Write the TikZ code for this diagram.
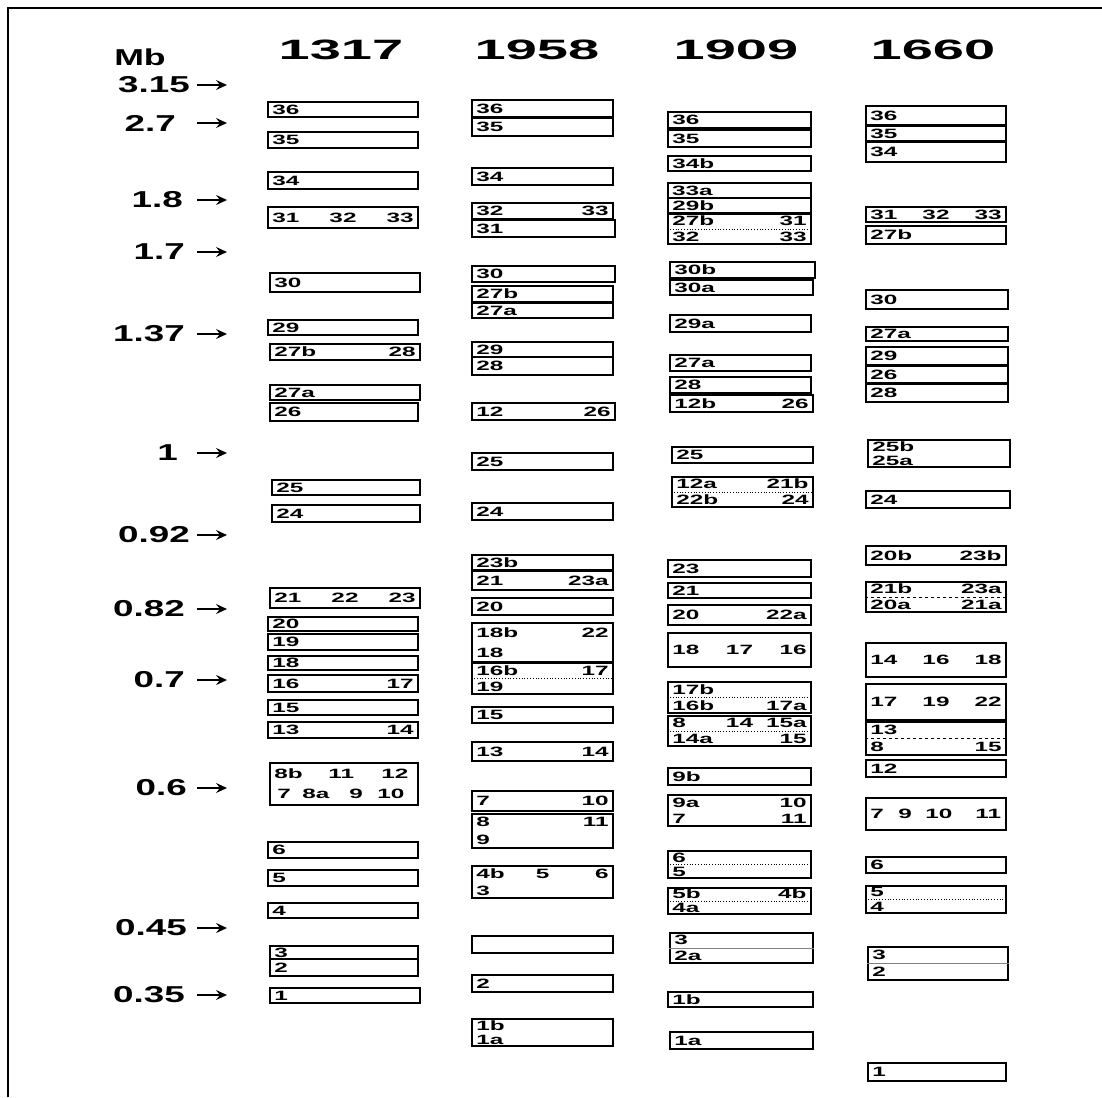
\documentclass[tikz,border=0pt]{standalone}
\usepackage{fontspec}
\setmainfont{Liberation Sans}
\usepackage{graphicx}
\usetikzlibrary{fit,calc,arrows.meta}
\newcommand{\sx}[1]{\scalebox{1.8}[1]{#1}}
\newcommand{\mx}[1]{\scalebox{1.6}[1]{#1}}
\newcommand{\hx}[1]{\scalebox{2.0}[1]{#1}}
\tikzset{
 band/.style={draw, line width=1.5pt, inner sep=0pt},
 lbl/.style={inner sep=0pt, font=\fontsize{13.5}{13.5}\selectfont\bfseries},
 mblab/.style={inner sep=0pt, anchor=east, font=\fontsize{23}{23}\selectfont\bfseries},
 head/.style={inner sep=0pt, font=\fontsize{28}{28}\selectfont\bfseries},
 mbarr/.style={line width=1.6pt, -{Stealth[length=11pt,width=10pt,inset=4pt]}},
 midline/.style={line width=0.8pt, dotted},
 frameline/.style={line width=2pt},
}
\newcommand{\bandbox}[5]{\node[band, fit={(#2,#4) (#3,#5)}] (#1) {};}
\newcommand{\Lw}[2]{\node[lbl,anchor=west] (#1-w) at ([xshift=5pt]#1.west) {\sx{#2}};}
\newcommand{\Le}[2]{\node[lbl,anchor=east] (#1-e) at ([xshift=-5pt]#1.east) {\sx{#2}};}
\newcommand{\Lc}[2]{\node[lbl] (#1-c) at (#1.center) {\sx{#2}};}
\newcommand{\Ltw}[2]{\node[lbl,anchor=west] (#1-tw) at ([xshift=5pt]$(#1.north west)!.25!(#1.south west)$) {\sx{#2}};}
\newcommand{\Lte}[2]{\node[lbl,anchor=east] (#1-te) at ([xshift=-5pt]$(#1.north east)!.25!(#1.south east)$) {\sx{#2}};}
\newcommand{\Ltc}[2]{\node[lbl] (#1-tc) at ($(#1.north)!.25!(#1.south)$) {\sx{#2}};}
\newcommand{\Lbw}[2]{\node[lbl,anchor=west] (#1-bw) at ([xshift=5pt]$(#1.north west)!.75!(#1.south west)$) {\sx{#2}};}
\newcommand{\Lbe}[2]{\node[lbl,anchor=east] (#1-be) at ([xshift=-5pt]$(#1.north east)!.75!(#1.south east)$) {\sx{#2}};}
\newcommand{\Ltx}[4]{\node[lbl,anchor=west] (#1-t#2) at ([xshift=#3pt]$(#1.north west)!.27!(#1.south west)$) {\sx{#4}};}
\newcommand{\Lbx}[4]{\node[lbl,anchor=west] (#1-b#2) at ([xshift=#3pt]$(#1.north west)!.73!(#1.south west)$) {\sx{#4}};}
\newcommand{\Lmx}[4]{\node[lbl,anchor=west] (#1-m#2) at ([xshift=#3pt]#1.west) {\sx{#4}};}
\newcommand{\mbmark}[4]{%
 \node[mblab] (mb#1) at (#3,#4) {\mx{#2}};
 \coordinate (mb#1a) at (197,#4);
 \coordinate (mb#1b) at (227,#4);
 \draw[mbarr] (mb#1a) -- (mb#1b);}
\begin{document}
\begin{tikzpicture}[x=1pt,y=-1pt]
\useasboundingbox (0,0) rectangle (1102,1097);
\fill[white] (0,0) rectangle (1102,1097);
% frame
\coordinate (fbl) at (8,1097);
\coordinate (ftl) at (8,8);
\coordinate (ftr) at (1102,8);
\draw[frameline] (fbl) -- (ftl) -- (ftr);
% headers
\node[inner sep=0pt, font=\fontsize{23}{23}\selectfont\bfseries] (mbhead) at (140,57) {\scalebox{1.55}[1]{Mb}};
\node[head] (h1317) at (341,50) {\hx{1317}};
\node[head] (h1958) at (537,50) {\hx{1958}};
\node[head] (h1909) at (736,50) {\hx{1909}};
\node[head] (h1660) at (933,50) {\hx{1660}};
% Mb scale
\mbmark{315}{3.15}{190}{85}
\mbmark{27}{2.7}{176}{123}
\mbmark{18}{1.8}{183}{200}
\mbmark{17}{1.7}{185}{252}
\mbmark{137}{1.37}{185}{334}
\mbmark{1}{1}{178}{453}
\mbmark{092}{0.92}{190}{535}
\mbmark{082}{0.82}{185}{609}
\mbmark{07}{0.7}{185}{680}
\mbmark{06}{0.6}{187}{788}
\mbmark{045}{0.45}{187}{928}
\mbmark{035}{0.35}{185}{995}

% ---------- 1317 ----------
\bandbox{a36}{268}{418}{102}{117} \Lw{a36}{36}
\bandbox{a35}{268}{418}{132}{148} \Lw{a35}{35}
\bandbox{a34}{268}{418}{172}{189} \Lw{a34}{34}
\bandbox{a31}{268}{418}{207}{228} \Lw{a31}{31} \Lc{a31}{32} \Le{a31}{33}
\bandbox{a30}{270}{420}{273}{292} \Lw{a30}{30}
\bandbox{a29}{268}{418}{320}{335} \Lw{a29}{29}
\bandbox{a27b}{270}{420}{344}{360} \Lw{a27b}{27b} \Le{a27b}{28}
\bandbox{a27a}{270}{420}{385}{400} \Lw{a27a}{27a}
\bandbox{a26}{270}{418}{403}{421} \Lw{a26}{26}
\bandbox{a25}{272}{420}{480}{495} \Lw{a25}{25}
\bandbox{a24}{272}{420}{505}{522} \Lw{a24}{24}
\bandbox{a21}{270}{420}{588}{608} \Lw{a21}{21} \Lc{a21}{22} \Le{a21}{23}
\bandbox{a20}{268}{418}{617}{631} \Lw{a20}{20}
\bandbox{a19}{268}{418}{634}{650} \Lw{a19}{19}
\bandbox{a18}{268}{418}{656}{670} \Lw{a18}{18}
\bandbox{a16}{268}{418}{675}{692} \Lw{a16}{16} \Le{a16}{17}
\bandbox{a15}{268}{418}{700}{715} \Lw{a15}{15}
\bandbox{a13}{268}{418}{722}{738} \Lw{a13}{13} \Le{a13}{14}
\bandbox{a8}{270}{418}{763}{805}
\Ltx{a8}{1}{5}{8b} \Ltx{a8}{2}{59}{11} \Ltx{a8}{3}{112}{12}
\Lbx{a8}{1}{8}{7} \Lbx{a8}{2}{33}{8a} \Lbx{a8}{3}{80}{9} \Lbx{a8}{4}{108}{10}
\bandbox{a6}{268}{418}{842}{858} \Lw{a6}{6}
\bandbox{a5}{268}{418}{870}{886} \Lw{a5}{5}
\bandbox{a4}{268}{418}{903}{918} \Lw{a4}{4}
\bandbox{a3}{270}{418}{946}{959} \Lw{a3}{3}
\bandbox{a2}{270}{418}{959}{976} \Lw{a2}{2}
\bandbox{a1}{270}{420}{988}{1003} \Lw{a1}{1}

% ---------- 1958 ----------
\bandbox{b36}{472}{613}{100}{117} \Lw{b36}{36}
\bandbox{b35}{472}{613}{118}{136} \Lw{b35}{35}
\bandbox{b34}{472}{613}{168}{185} \Lw{b34}{34}
\bandbox{b32}{472}{613}{203}{219} \Lw{b32}{32} \Le{b32}{33}
\bandbox{b31}{472}{615}{220}{237} \Lw{b31}{31}
\bandbox{b30}{472}{615}{266}{282} \Lw{b30}{30}
\bandbox{b27b}{472}{613}{286}{302} \Lw{b27b}{27b}
\bandbox{b27a}{472}{613}{303}{318} \Lw{b27a}{27a}
\bandbox{b29}{472}{613}{342}{357} \Lw{b29}{29}
\bandbox{b28}{472}{613}{357}{375} \Lw{b28}{28}
\bandbox{b12}{472}{615}{403}{420} \Lw{b12}{12} \Le{b12}{26}
\bandbox{b25}{472}{613}{453}{470} \Lw{b25}{25}
\bandbox{b24}{472}{613}{503}{520} \Lw{b24}{24}
\bandbox{b23b}{472}{613}{555}{570} \Lw{b23b}{23b}
\bandbox{b21}{472}{613}{571}{590} \Lw{b21}{21} \Le{b21}{23a}
\bandbox{b20}{472}{613}{598}{615} \Lw{b20}{20}
\bandbox{b18}{472}{613}{623}{662} \Ltw{b18}{18b} \Lte{b18}{22} \Lbw{b18}{18}
\bandbox{b16}{472}{613}{663}{694} \Ltw{b16}{16b} \Lte{b16}{17} \Lbw{b16}{19}
\draw[midline] (b16.west) -- (b16.east);
\bandbox{b15}{472}{613}{707}{723} \Lw{b15}{15}
\bandbox{b13}{472}{613}{742}{761} \Lw{b13}{13} \Le{b13}{14}
\bandbox{b7}{472}{613}{791}{811} \Lw{b7}{7} \Le{b7}{10}
\bandbox{b8}{472}{613}{814}{848} \Ltw{b8}{8} \Lte{b8}{11} \Lbw{b8}{9}
\bandbox{b4}{472}{613}{866}{898} \Ltw{b4}{4b} \Ltc{b4}{5} \Lte{b4}{6} \Lbw{b4}{3}
\bandbox{b2x}{472}{613}{936}{953}
\bandbox{b2}{472}{613}{975}{992} \Lw{b2}{2}
\bandbox{b1}{472}{613}{1019}{1046} \Ltw{b1}{1b} \Lbw{b1}{1a}

% ---------- 1909 ----------
\bandbox{c36}{668}{811}{112}{128} \Lw{c36}{36}
\bandbox{c35}{668}{811}{130}{147} \Lw{c35}{35}
\bandbox{c34}{668}{811}{156}{171} \Lw{c34}{34b}
\node[band, line width=2.2pt, fit={(668,183) (811,198)}] (c33) {}; \Lw{c33}{33a}
\bandbox{c29b}{668}{811}{198}{213} \Lw{c29b}{29b}
\bandbox{c27}{668}{811}{214}{244} \Ltw{c27}{27b} \Lte{c27}{31} \Lbw{c27}{32} \Lbe{c27}{33}
\draw[midline] (c27.west) -- (c27.east);
\bandbox{c30b}{670}{815}{262}{278} \Lw{c30b}{30b}
\bandbox{c30a}{670}{813}{280}{295} \Lw{c30a}{30a}
\bandbox{c29a}{670}{811}{315}{332} \Lw{c29a}{29a}
\bandbox{c27a}{670}{811}{355}{371} \Lw{c27a}{27a}
\bandbox{c28}{670}{811}{377}{393} \Lw{c28}{28}
\bandbox{c12b}{670}{813}{395}{412} \Lw{c12b}{12b} \Le{c12b}{26}
\bandbox{c25}{672}{813}{447}{463} \Lw{c25}{25}
\bandbox{c12a}{672}{813}{477}{507} \Ltw{c12a}{12a} \Lte{c12a}{21b} \Lbw{c12a}{22b} \Lbe{c12a}{24}
\draw[midline] (c12a.west) -- (c12a.east);
\bandbox{c23}{668}{811}{560}{577} \Lw{c23}{23}
\bandbox{c21}{668}{811}{583}{598} \Lw{c21}{21}
\bandbox{c20}{668}{811}{605}{625} \Lw{c20}{20} \Le{c20}{22a}
\bandbox{c18}{668}{811}{633}{667} \Lw{c18}{18} \Lc{c18}{17} \Le{c18}{16}
\bandbox{c17}{668}{811}{682}{713} \Ltw{c17}{17b} \Lbw{c17}{16b} \Lbe{c17}{17a}
\draw[midline] (c17.west) -- (c17.east);
\bandbox{c8}{668}{811}{716}{746} \Ltw{c8}{8} \Ltc{c8}{14} \Lte{c8}{15a} \Lbw{c8}{14a} \Lbe{c8}{15}
\draw[midline] (c8.west) -- (c8.east);
\bandbox{c9b}{668}{811}{768}{785} \Lw{c9b}{9b}
\bandbox{c9a}{668}{811}{795}{826} \Ltw{c9a}{9a} \Lte{c9a}{10} \Lbw{c9a}{7} \Lbe{c9a}{11}
\bandbox{c6}{668}{811}{851}{878} \Ltw{c6}{6} \Lbw{c6}{5}
\draw[midline] (c6.west) -- (c6.east);
\bandbox{c5}{668}{811}{888}{914} \Ltw{c5}{5b} \Lte{c5}{4b} \Lbw{c5}{4a}
\draw[midline] (c5.west) -- (c5.east);
\bandbox{c3}{670}{813}{933}{963} \Ltw{c3}{3} \Lbw{c3}{2a}
\draw[line width=0.6pt, gray] (c3.west) -- (c3.east);
\bandbox{c1b}{668}{813}{992}{1007} \Lw{c1b}{1b}
\bandbox{c1a}{670}{813}{1032}{1049} \Lw{c1a}{1a}

% ---------- 1660 ----------
\bandbox{d36}{866}{1006}{106}{125} \Lw{d36}{36}
\bandbox{d35}{866}{1006}{126}{141} \Lw{d35}{35}
\bandbox{d34}{866}{1006}{142}{162} \Lw{d34}{34}
\bandbox{d31}{866}{1006}{207}{222} \Lw{d31}{31} \Lc{d31}{32} \Le{d31}{33}
\bandbox{d27b}{866}{1006}{226}{244} \Lw{d27b}{27b}
\bandbox{d30}{866}{1008}{290}{309} \Lw{d30}{30}
\bandbox{d27a}{866}{1008}{327}{341} \Lw{d27a}{27a}
\bandbox{d29}{866}{1008}{347}{365} \Lw{d29}{29}
\bandbox{d26}{866}{1008}{366}{383} \Lw{d26}{26}
\bandbox{d28}{866}{1008}{384}{402} \Lw{d28}{28}
\bandbox{d25}{868}{1010}{440}{467} \Ltw{d25}{25b} \Lbw{d25}{25a}
\bandbox{d24}{866}{1010}{491}{508} \Lw{d24}{24}
\bandbox{d20b}{866}{1006}{546}{565} \Lw{d20b}{20b} \Le{d20b}{23b}
\bandbox{d21}{866}{1006}{582}{612} \Ltw{d21}{21b} \Lte{d21}{23a} \Lbw{d21}{20a} \Lbe{d21}{21a}
\draw[line width=0.8pt, dashed] (d21.west) -- (d21.east);
\bandbox{d14}{866}{1006}{643}{677} \Lw{d14}{14} \Lc{d14}{16} \Le{d14}{18}
\bandbox{d17}{866}{1006}{684}{720} \Lw{d17}{17} \Lc{d17}{19} \Le{d17}{22}
\bandbox{d13}{866}{1006}{722}{755} \Ltw{d13}{13} \Lbw{d13}{8} \Lbe{d13}{15}
\draw[line width=0.8pt, dashed] (d13.west) -- (d13.east);
\bandbox{d12}{866}{1006}{760}{777} \Lw{d12}{12}
\bandbox{d7}{866}{1006}{798}{830}
\Lmx{d7}{1}{5}{7} \Lmx{d7}{2}{33}{9} \Lmx{d7}{3}{60}{10} \Lmx{d7}{4}{110}{11}
\bandbox{d6}{866}{1006}{857}{873} \Lw{d6}{6}
\bandbox{d5}{866}{1006}{886}{913} \Ltw{d5}{5} \Lbw{d5}{4}
\draw[midline] (d5.west) -- (d5.east);
\bandbox{d3}{868}{1008}{947}{980} \Ltw{d3}{3} \Lbw{d3}{2}
\draw[line width=0.6pt, gray] (d3.west) -- (d3.east);
\bandbox{d1}{868}{1006}{1063}{1081} \Lw{d1}{1}
\end{tikzpicture}
\end{document}
